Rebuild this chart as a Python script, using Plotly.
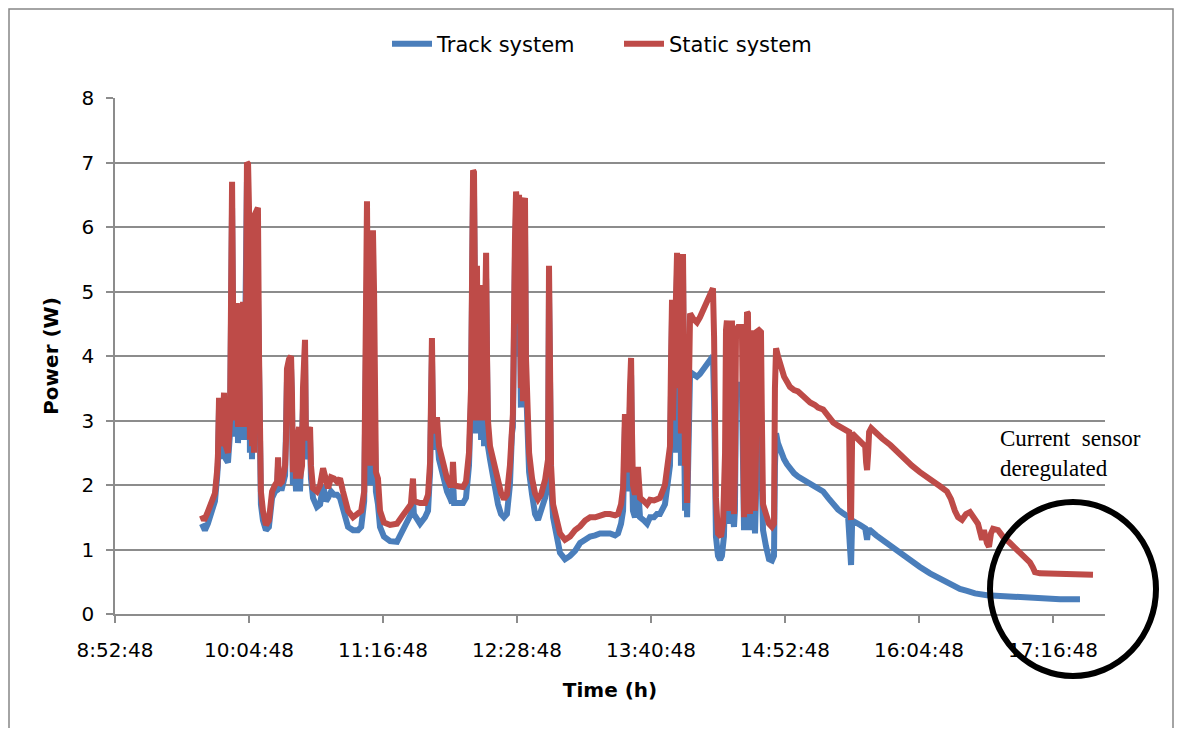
import pandas as pd
import plotly.graph_objects as go

# Time of day in minutes after midnight, and power in W
track_minutes = [
    579.5, 581.1, 582.7, 584.9, 586.5, 587.6, 588.1, 588.7, 589.8, 590.8, 591.4, 592.4, 593.5, 594.6,
    595.7, 596.7, 598.3, 598.9, 600.0, 600.5, 601.6, 602.1, 603.7, 604.8, 605.3, 605.9, 606.4, 608.0,
    609.1, 610.2, 611.2, 612.3, 613.9, 615.5, 617.2, 618.8, 619.9, 620.4, 620.9, 622.5, 624.2, 625.2,
    627.4, 627.9, 628.4, 629.5, 630.1, 631.1, 631.7, 632.2, 633.8, 634.9, 635.4, 636.5, 637.6, 638.1,
    639.2, 641.3, 643.0, 644.6, 646.2, 647.3, 648.9, 650.5, 652.1, 653.7, 655.3, 658.0, 660.7, 663.4,
    665.1, 666.7, 667.7, 668.2, 668.8, 669.8, 670.9, 671.4, 672.0, 673.0, 674.1, 675.2, 677.3, 680.6,
    684.3, 687.5, 690.2, 691.8, 692.9, 693.4, 696.7, 699.4, 701.0, 702.1, 703.1, 703.7, 704.8, 705.8,
    706.9, 709.1, 711.2, 712.8, 713.9, 714.4, 715.0, 717.1, 719.8, 721.4, 723.0, 724.1, 724.6, 725.2,
    725.7, 726.2, 726.8, 727.3, 727.8, 728.9, 729.5, 730.5, 731.1, 732.2, 732.7, 733.2, 734.3, 736.5,
    738.6, 740.2, 741.8, 743.4, 745.0, 746.1, 746.6, 747.7, 748.3, 748.8, 749.3, 749.9, 750.4, 750.9,
    751.5, 752.6, 753.1, 753.6, 754.2, 755.3, 756.9, 758.5, 760.1, 761.7, 763.9, 765.5, 766.0, 766.6,
    767.1, 768.2, 769.8, 771.9, 774.6, 777.3, 780.0, 782.7, 785.4, 788.1, 790.8, 793.4, 796.1, 798.8,
    801.5, 803.1, 804.7, 805.8, 806.3, 806.8, 807.4, 807.9, 808.5, 809.5, 810.1, 810.6, 811.1, 812.2,
    813.3, 813.8, 814.4, 814.9, 817.0, 818.7, 820.3, 822.4, 824.0, 825.6, 828.3, 830.0, 831.0, 831.6,
    832.1, 832.6, 833.7, 834.2, 834.8, 835.3, 836.4, 836.9, 837.5, 838.0, 838.5, 839.1, 839.6, 840.2,
    840.7, 841.8, 843.4, 845.5, 847.1, 849.3, 850.9, 853.0, 854.1, 854.7, 855.2, 855.7, 856.8, 857.9,
    858.9, 860.0, 860.6, 861.1, 861.6, 862.2, 862.7, 863.3, 863.8, 864.3, 864.9, 865.4, 865.9, 866.5,
    867.6, 869.2, 869.7, 870.2, 870.8, 871.3, 871.9, 872.4, 872.9, 873.5, 874.0, 874.5, 875.1, 875.6,
    876.2, 876.7, 877.2, 877.8, 878.8, 879.9, 880.4, 881.0, 882.6, 884.2, 885.8, 886.9, 887.4, 888.0,
    889.0, 890.7, 892.3, 893.9, 895.5, 897.7, 899.8, 902.5, 906.3, 910.6, 913.3, 916.0, 918.7, 921.3,
    924.0, 926.7, 927.8, 928.3, 928.9, 930.5, 933.2, 935.9, 936.9, 937.5, 938.6, 941.8, 945.0, 949.4,
    953.5, 957.3, 961.0, 965.3, 970.7, 976.1, 981.4, 986.8, 990.6, 994.9, 1001.3, 1008.3, 1013.7,
    1019.1, 1024.4, 1028.2, 1035.2, 1040.6, 1045.9, 1051.3, 1058.3,
]
track_power = [
    1.40, 1.30, 1.40, 1.60, 1.75, 2.10, 2.30, 3.20, 2.40, 2.90, 3.30, 2.40, 2.35, 2.80,
    6.30, 2.75, 4.60, 2.65, 4.60, 2.70, 4.60, 2.70, 6.70, 6.00, 2.50, 5.50, 2.40, 6.00,
    6.00, 3.80, 1.70, 1.45, 1.30, 1.35, 1.80, 1.90, 1.92, 2.30, 1.95, 1.95, 2.15, 3.60,
    3.80, 3.20, 2.00, 2.20, 1.90, 2.60, 2.70, 1.90, 3.30, 4.05, 2.40, 2.60, 2.70, 2.10,
    1.80, 1.66, 1.70, 2.00, 1.75, 1.80, 1.90, 1.85, 1.85, 1.80, 1.60, 1.35, 1.30, 1.30,
    1.35, 1.75, 4.20, 5.20, 3.20, 2.00, 2.50, 5.00, 3.50, 1.90, 1.70, 1.35, 1.20, 1.13,
    1.12, 1.30, 1.45, 1.55, 1.80, 1.55, 1.40, 1.50, 1.60, 2.20, 4.00, 2.80, 2.55, 2.80,
    2.40, 2.10, 1.90, 1.80, 1.72, 2.10, 1.72, 1.72, 1.72, 1.80, 2.30, 3.30, 6.20, 6.60,
    6.50, 3.50, 2.80, 5.00, 2.80, 4.70, 2.70, 4.50, 2.60, 5.20, 3.50, 2.60, 2.40, 2.00,
    1.70, 1.55, 1.50, 1.55, 2.00, 2.80, 2.90, 5.50, 6.20, 5.80, 4.00, 6.10, 4.50, 3.20,
    5.80, 6.00, 6.00, 3.60, 2.70, 2.20, 1.85, 1.55, 1.46, 1.60, 1.80, 2.10, 5.00, 3.50,
    2.00, 1.50, 1.20, 0.95, 0.85, 0.90, 0.98, 1.10, 1.15, 1.20, 1.22, 1.25, 1.25, 1.25,
    1.22, 1.25, 1.40, 1.60, 2.20, 2.90, 2.50, 2.00, 1.90, 3.20, 3.70, 2.30, 1.60, 1.50,
    1.65, 2.00, 1.65, 1.50, 1.45, 1.40, 1.50, 1.50, 1.55, 1.55, 1.70, 2.00, 2.30, 3.50,
    4.60, 2.50, 4.70, 5.30, 5.30, 2.50, 5.20, 2.30, 4.20, 5.30, 3.00, 1.60, 2.30, 1.50,
    2.20, 3.75, 3.72, 3.68, 3.72, 3.80, 3.88, 3.95, 4.00, 3.30, 2.00, 1.20, 0.90, 0.84,
    0.90, 1.20, 2.00, 3.30, 3.50, 1.80, 1.40, 1.60, 3.40, 3.50, 1.50, 1.35, 1.60, 3.40,
    3.50, 3.58, 3.40, 1.60, 1.30, 1.80, 3.50, 3.60, 3.55, 1.60, 1.30, 1.80, 3.40, 3.40,
    1.60, 1.25, 1.80, 3.30, 3.30, 3.20, 2.00, 1.30, 1.05, 0.85, 0.83, 0.90, 2.30, 2.80,
    2.65, 2.50, 2.40, 2.32, 2.25, 2.18, 2.13, 2.08, 2.03, 1.95, 1.90, 1.80, 1.70, 1.62,
    1.56, 1.51, 1.00, 0.76, 1.45, 1.43, 1.38, 1.33, 1.15, 1.30, 1.30, 1.22, 1.15, 1.05,
    0.96, 0.88, 0.80, 0.73, 0.63, 0.55, 0.46, 0.39, 0.36, 0.32, 0.29, 0.28, 0.27,
    0.26, 0.25, 0.23, 0.23, 0.23, 0.23, 0.23,
]

static_minutes = [
    579.5, 580.6, 582.2, 584.4, 586.5, 587.6, 588.1, 588.7, 589.8, 590.8, 591.4, 592.4, 593.5, 594.6,
    595.7, 596.7, 597.8, 598.3, 598.9, 600.0, 600.5, 601.6, 602.1, 603.2, 603.7, 604.3, 604.8, 605.3,
    605.9, 606.4, 606.9, 607.5, 608.0, 609.1, 609.6, 610.2, 611.2, 612.3, 613.9, 615.5, 617.2, 618.8,
    619.9, 620.4, 620.9, 622.5, 624.2, 624.7, 625.2, 626.3, 627.4, 627.9, 628.4, 629.5, 630.1, 631.1,
    631.7, 632.2, 633.3, 633.8, 634.9, 635.4, 636.5, 637.6, 638.1, 639.2, 641.3, 643.0, 644.6, 646.2,
    647.3, 648.9, 650.5, 652.1, 653.7, 655.3, 658.0, 660.7, 663.4, 665.1, 666.7, 667.7, 668.2, 668.8,
    669.8, 670.9, 671.4, 672.0, 673.0, 674.1, 675.2, 677.3, 680.6, 684.3, 687.5, 690.2, 691.8, 692.9,
    693.4, 696.7, 699.4, 701.0, 702.1, 703.1, 703.7, 704.8, 705.8, 706.9, 709.1, 711.2, 712.8, 713.9,
    714.4, 715.0, 717.1, 719.8, 721.4, 723.0, 724.1, 724.6, 725.2, 725.7, 726.2, 726.8, 727.3, 727.8,
    728.9, 729.5, 730.5, 731.1, 731.6, 732.2, 732.7, 733.2, 734.3, 736.5, 738.6, 740.2, 741.8, 743.4,
    745.0, 746.1, 746.6, 747.7, 748.3, 748.8, 749.3, 749.9, 750.4, 750.9, 751.5, 752.0, 752.6, 753.1,
    753.6, 754.2, 755.3, 756.9, 758.5, 760.1, 761.7, 763.9, 765.5, 766.0, 766.6, 767.1, 768.2, 769.8,
    771.9, 774.6, 777.3, 780.0, 782.7, 785.4, 788.1, 790.8, 793.4, 796.1, 798.8, 801.5, 803.1, 804.7,
    805.8, 806.3, 806.8, 807.4, 807.9, 808.5, 809.5, 810.1, 810.6, 811.1, 812.2, 813.3, 813.8, 814.4,
    814.9, 817.0, 818.7, 820.3, 822.4, 824.0, 825.6, 828.3, 830.0, 831.0, 831.6, 832.1, 832.6, 833.7,
    834.2, 834.8, 835.3, 836.4, 836.9, 837.5, 838.0, 838.5, 839.1, 839.6, 840.2, 840.7, 841.8, 843.4,
    845.5, 847.1, 849.3, 850.9, 853.0, 854.1, 854.7, 855.2, 855.7, 856.8, 858.4, 859.5, 860.6, 861.1,
    861.6, 862.2, 862.7, 863.3, 863.8, 864.3, 864.9, 865.4, 865.9, 866.5, 867.6, 869.2, 869.7, 870.2,
    870.8, 871.3, 871.9, 872.4, 872.9, 873.5, 874.0, 874.5, 875.1, 875.6, 876.2, 876.7, 877.2, 877.8,
    878.8, 879.9, 880.4, 881.0, 882.6, 884.2, 885.8, 886.9, 887.4, 888.0, 889.0, 890.7, 892.3, 893.9,
    895.5, 897.7, 899.8, 902.5, 904.1, 906.3, 908.9, 910.6, 913.3, 916.0, 918.7, 921.3, 924.0, 926.2,
    927.3, 927.8, 928.3, 928.9, 930.5, 933.2, 934.8, 935.9, 936.4, 936.9, 937.5, 938.0, 939.1, 941.8,
    945.0, 949.4, 953.5, 957.3, 961.0, 965.3, 970.7, 976.1, 979.8, 982.0, 984.1, 985.8, 987.9, 990.1,
    992.2, 994.4, 996.5, 998.7, 999.7, 1001.3, 1002.4, 1003.5, 1004.6, 1007.3, 1009.9, 1013.7, 1018.0,
    1020.7, 1024.4, 1026.0, 1027.1, 1029.8, 1035.2, 1040.6, 1045.9, 1051.3, 1058.3,
]
static_power = [
    1.53, 1.45, 1.55, 1.70, 1.87, 2.20, 2.45, 3.35, 2.60, 3.10, 3.43, 2.60, 2.50, 3.00,
    6.70, 3.00, 4.60, 4.82, 2.90, 4.80, 3.00, 4.84, 2.90, 4.50, 7.00, 6.98, 6.30, 2.70,
    5.80, 2.60, 6.10, 2.50, 6.20, 6.30, 6.30, 4.00, 1.90, 1.60, 1.38, 1.45, 1.90, 2.00,
    2.05, 2.43, 2.00, 2.05, 2.30, 2.70, 3.80, 3.95, 4.00, 3.40, 2.20, 2.50, 2.10, 2.80,
    2.90, 2.10, 2.30, 3.50, 4.25, 2.70, 2.80, 2.90, 2.30, 1.95, 1.90, 2.00, 2.26, 2.00,
    1.95, 2.12, 2.10, 2.05, 2.10, 1.90, 1.60, 1.50, 1.55, 1.60, 1.90, 4.50, 6.40, 4.00,
    2.30, 3.00, 5.95, 5.00, 2.20, 2.10, 1.60, 1.42, 1.38, 1.40, 1.53, 1.62, 1.70, 2.10,
    1.75, 1.72, 1.72, 1.85, 2.35, 4.28, 3.00, 2.80, 3.05, 2.60, 2.30, 2.10, 2.00, 2.00,
    2.36, 2.00, 1.98, 1.97, 2.05, 2.50, 3.50, 6.50, 6.88, 6.85, 4.00, 3.00, 5.40, 3.20,
    5.10, 3.00, 4.90, 3.00, 4.50, 5.60, 4.00, 3.00, 2.60, 2.30, 2.00, 1.88, 1.78, 1.85,
    2.30, 3.00, 3.10, 5.80, 6.55, 6.30, 4.50, 6.50, 5.00, 3.50, 6.20, 3.30, 6.40, 6.45,
    4.00, 3.00, 2.50, 2.10, 1.87, 1.78, 1.85, 2.08, 2.40, 5.40, 4.00, 2.30, 1.70, 1.45,
    1.25, 1.15, 1.20, 1.30, 1.36, 1.45, 1.50, 1.50, 1.53, 1.55, 1.55, 1.53, 1.55, 1.70,
    1.95, 2.50, 3.10, 2.90, 2.30, 2.20, 3.50, 3.97, 2.80, 2.00, 1.85, 2.00, 2.28, 2.00,
    1.80, 1.75, 1.70, 1.77, 1.76, 1.78, 1.80, 2.00, 2.30, 2.60, 4.00, 4.87, 3.00, 5.00,
    5.60, 5.60, 3.50, 5.55, 2.80, 4.50, 5.58, 4.00, 2.30, 3.00, 1.72, 2.50, 4.66, 4.58,
    4.52, 4.60, 4.75, 4.85, 5.00, 5.05, 4.30, 3.00, 1.80, 1.25, 1.20, 1.40, 2.50, 4.40,
    4.55, 2.50, 1.60, 2.20, 4.50, 4.55, 2.00, 1.55, 2.20, 4.40, 4.45, 4.45, 4.30, 1.80,
    1.50, 2.50, 4.50, 4.68, 4.66, 2.00, 1.55, 2.50, 4.38, 4.40, 2.00, 1.60, 2.50, 4.38,
    4.40, 4.37, 3.00, 1.70, 1.55, 1.40, 1.35, 1.40, 3.50, 4.12, 4.00, 3.80, 3.68, 3.60,
    3.52, 3.47, 3.45, 3.38, 3.33, 3.28, 3.24, 3.20, 3.17, 3.05, 2.97, 2.92, 2.88, 2.85,
    2.82, 1.60, 1.46, 2.80, 2.75, 2.68, 2.62, 2.60, 2.35, 2.23, 2.50, 2.82, 2.88, 2.82,
    2.72, 2.62, 2.50, 2.40, 2.30, 2.20, 2.10, 1.98, 1.90, 1.78, 1.60, 1.50, 1.46, 1.55,
    1.58, 1.50, 1.40, 1.15, 1.30, 1.10, 1.04, 1.25, 1.32, 1.30, 1.20, 1.10, 0.98,
    0.90, 0.80, 0.72, 0.65, 0.63, 0.63, 0.62, 0.62, 0.61, 0.61,
]

tick_labels = ["8:52:48", "10:04:48", "11:16:48", "12:28:48",
               "13:40:48", "14:52:48", "16:04:48", "17:16:48"]
x_range_labels = ["8:52:48", "17:44:45"]
y_ticks = [0, 1, 2, 3, 4, 5, 6, 7, 8]

series_names = ["Track system", "Static system"]
series_colors = ["#4A7EBB", "#BE4B48"]

BASE = pd.Timestamp("2000-01-01")


def to_dt(minutes):
    return [BASE + pd.Timedelta(minutes=m) for m in minutes]


def label_dt(label):
    return BASE + pd.to_timedelta(label)


fig = go.Figure()
fig.add_trace(go.Scatter(x=to_dt(track_minutes), y=track_power, mode="lines",
                         name=series_names[0],
                         line=dict(color=series_colors[0], width=6)))
fig.add_trace(go.Scatter(x=to_dt(static_minutes), y=static_power, mode="lines",
                         name=series_names[1],
                         line=dict(color=series_colors[1], width=6)))

grid_col = "#8C8C8C"
font_main = "DejaVu Sans"

fig.update_xaxes(
    type="date",
    range=[label_dt(x_range_labels[0]), label_dt(x_range_labels[1])],
    tickvals=[label_dt(t) for t in tick_labels],
    ticktext=tick_labels,
    ticks="outside", ticklen=7, tickwidth=1.5, tickcolor=grid_col,
    ticklabelstandoff=10,
    showline=True, linecolor=grid_col, linewidth=2,
    showgrid=False, zeroline=False,
    tickfont=dict(family=font_main, size=20, color="#000000"),
    title=dict(text="<b>Time (h)</b>", standoff=22,
               font=dict(family=font_main, size=20, color="#000000")),
)
fig.update_yaxes(
    range=[0, 8], tickvals=y_ticks,
    ticks="outside", ticklen=7, tickwidth=1.5, tickcolor=grid_col,
    ticklabelstandoff=8,
    showline=True, linecolor=grid_col, linewidth=1.5,
    showgrid=True, gridcolor=grid_col, gridwidth=2,
    zeroline=False,
    tickfont=dict(family=font_main, size=20, color="#000000"),
    title=dict(text="<b>Power (W)</b>", standoff=18,
               font=dict(family=font_main, size=20, color="#000000")),
)

# Target plot area in page pixels (left 115, right 1105, top 98, bottom 614);
# the page body adds an 8 px margin on each side, removed from the figure box.
OFF = 8
PAGE_W, PAGE_H = 1182, 736
L, R, T, B = 115, 1105, 98, 614
W, H = R - L, B - T
FIG_W, FIG_H = PAGE_W - 2 * OFF, PAGE_H - 2 * OFF


def px(xp):
    return (xp - L) / W


def py(yp):
    return (B - yp) / H


fig.update_layout(
    width=FIG_W, height=FIG_H,
    margin=dict(l=L - OFF, r=FIG_W - (R - OFF), t=T - OFF, b=FIG_H - (B - OFF)),
    paper_bgcolor="white", plot_bgcolor="white",
    font=dict(family=font_main, color="#000000"),
    showlegend=True,
    legend=dict(orientation="h", x=px(619), y=py(44), xanchor="center", yanchor="middle",
                font=dict(family=font_main, size=21, color="#000000"),
                bgcolor="rgba(0,0,0,0)", itemwidth=40, tracegroupgap=0,
                entrywidth=177, entrywidthmode="pixels"),
    shapes=[
        dict(type="rect", xref="paper", yref="paper",
             x0=px(9), x1=px(1173), y0=py(760), y1=py(9),
             line=dict(color="#868686", width=1.5), fillcolor="rgba(0,0,0,0)", layer="below"),
        dict(type="circle", xref="paper", yref="paper",
             x0=px(990), x1=px(1156), y0=py(676), y1=py(502),
             line=dict(color="#000000", width=6), fillcolor="rgba(0,0,0,0)", layer="above"),
    ],
    annotations=[
        dict(text="Current&nbsp;&nbsp;sensor<br>deregulated", xref="paper", yref="paper",
             x=px(998), y=py(424), xanchor="left", yanchor="top", align="left",
             showarrow=False,
             font=dict(family="Liberation Serif", size=23, color="#000000")),
    ],
)

fig.write_html("out.html")
